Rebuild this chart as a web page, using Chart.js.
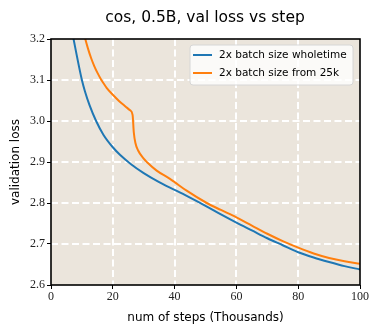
<!DOCTYPE html>
<html>
<head>
<meta charset="utf-8">
<script src="https://cdn.jsdelivr.net/npm/chart.js@4"></script>
<style>
  body { margin: 0; background: #fff; }
  #wrap { width: 378px; height: 332px; }
</style>
</head>
<body>
<div id="wrap"><canvas id="graphs" width="378" height="332"></canvas></div>
<script>
// chart text
const titleText = "cos, 0.5B, val loss vs step";
const xTitle = "num of steps (Thousands)";
const yTitle = "validation loss";
const seriesNames = ["2x batch size wholetime", "2x batch size from 25k"];

// x ticks / y ticks
const xTicks = [0, 20, 40, 60, 80, 100];
const yTicks = [2.6, 2.7, 2.8, 2.9, 3.0, 3.1, 3.2];

// blue series (step in thousands, loss)
const blueSteps = [6.5, 7.3, 8, 9, 10, 11, 12.5, 14.6, 17, 20, 22.4, 26, 30, 35, 40, 45, 50, 55, 60, 65, 70, 75, 80, 85, 90, 95, 100];
const blueLoss  = [3.232, 3.20, 3.173, 3.135, 3.10, 3.072, 3.038, 3.00, 2.966, 2.936, 2.917, 2.894, 2.873, 2.851, 2.832, 2.813, 2.793, 2.772, 2.752, 2.733, 2.714, 2.697, 2.680, 2.667, 2.656, 2.646, 2.638];

// orange series
const orangeSteps = [10.5, 11.1, 12, 13, 14, 15, 16.3, 17, 18, 20, 22, 24, 25.6, 26.4, 26.8, 27.3, 28.2, 30, 31, 34.2, 38.5, 40, 43.9, 50.4, 55, 60, 65, 70, 75, 80, 85, 90, 95, 100];
const orangeLoss  = [3.218, 3.20, 3.176, 3.153, 3.134, 3.118, 3.10, 3.092, 3.081, 3.064, 3.049, 3.036, 3.026, 3.015, 2.972, 2.947, 2.928, 2.908, 2.900, 2.879, 2.859, 2.851, 2.830, 2.800, 2.783, 2.765, 2.745, 2.725, 2.707, 2.691, 2.677, 2.666, 2.658, 2.652];

const blueCol = "#1f77b4", orangeCol = "#ff7f0e";

function toPts(xs, ys) {
    return xs.map((x, i) => ({ x: x, y: ys[i] }));
}

// background, dashed grid, frame, title and legend drawn by hand
const decorPlugin = {
    id: "decor",
    beforeDatasetsDraw(chart) {
        const a = chart.chartArea, ctx = chart.ctx;
        const xs = chart.scales.x, ys = chart.scales.y;
        ctx.save();
        ctx.fillStyle = "#ebe5dc";
        ctx.fillRect(a.left, a.top, a.right - a.left, a.bottom - a.top);
        ctx.strokeStyle = "#fff";
        ctx.lineWidth = 2;
        ctx.setLineDash([7, 3.5]);
        xTicks.slice(1, -1).forEach(v => {
            const px = Math.round(xs.getPixelForValue(v));
            ctx.beginPath();
            ctx.moveTo(px, a.top);
            ctx.lineTo(px, a.bottom);
            ctx.stroke();
        });
        yTicks.slice(1, -1).forEach(v => {
            const py = Math.round(ys.getPixelForValue(v));
            ctx.beginPath();
            ctx.moveTo(a.left, py);
            ctx.lineTo(a.right, py);
            ctx.stroke();
        });
        ctx.restore();
    },
    afterDraw(chart) {
        const a = chart.chartArea, ctx = chart.ctx;
        ctx.save();
        // frame
        ctx.strokeStyle = "#000";
        ctx.lineWidth = 1.6;
        ctx.strokeRect(a.left, a.top, a.right - a.left, a.bottom - a.top);

        // title
        ctx.fillStyle = "#000";
        ctx.font = "15.5px 'DejaVu Sans'";
        ctx.textAlign = "center";
        ctx.textBaseline = "alphabetic";
        ctx.fillText(titleText, 205, 22);

        // legend
        const bx = 190, by = 45, bw = 163, bh = 40;
        ctx.beginPath();
        ctx.roundRect(bx, by, bw, bh, 3);
        ctx.fillStyle = "rgba(255,255,255,0.8)";
        ctx.fill();
        ctx.strokeStyle = "#d6d6d6";
        ctx.lineWidth = 1;
        ctx.stroke();
        const cols = [blueCol, orangeCol];
        ctx.font = "10.5px 'DejaVu Sans'";
        ctx.textAlign = "left";
        ctx.textBaseline = "middle";
        seriesNames.forEach((name, i) => {
            const ly = by + 10 + i * 18;
            ctx.strokeStyle = cols[i];
            ctx.lineWidth = 2;
            ctx.beginPath();
            ctx.moveTo(bx + 3, ly);
            ctx.lineTo(bx + 22, ly);
            ctx.stroke();
            ctx.fillStyle = "#000";
            ctx.fillText(name, bx + 29, ly);
        });
        ctx.restore();
    }
};

const tickFont = { family: "'Liberation Serif', serif", size: 12 };

let data = {
    datasets: [{
            label: seriesNames[0],
            data: toPts(blueSteps, blueLoss),
            borderColor: blueCol,
            backgroundColor: blueCol,
            borderWidth: 2,
            pointRadius: 0,
            cubicInterpolationMode: "monotone"
        },
        {
            label: seriesNames[1],
            data: toPts(orangeSteps, orangeLoss),
            borderColor: orangeCol,
            backgroundColor: orangeCol,
            borderWidth: 2,
            pointRadius: 0,
            cubicInterpolationMode: "monotone"
        }
    ]
};

let config = {
    type: "line",
    data: data,
    options: {
        responsive: false,
        animation: false,
        layout: { padding: { top: 39, right: 18, left: 9, bottom: 7 } },
        plugins: {
            legend: { display: false },
            title: { display: false },
            tooltip: { enabled: false }
        },
        scales: {
            x: {
                type: "linear",
                min: 0,
                max: 100,
                afterBuildTicks: (s) => { s.ticks = xTicks.map(v => ({ value: v })); },
                afterFit: (s) => { s.height = 40; },
                ticks: { font: tickFont, color: "#222", padding: 1, maxRotation: 0 },
                grid: {
                    drawOnChartArea: false,
                    tickColor: "#000",
                    tickLength: 4,
                    tickWidth: 1
                },
                border: { display: false },
                title: {
                    display: true,
                    text: xTitle,
                    font: { family: "'DejaVu Sans'", size: 12 },
                    color: "#000",
                    padding: { top: 0, bottom: 0 }
                }
            },
            y: {
                min: 2.6,
                max: 3.2,
                afterBuildTicks: (s) => { s.ticks = yTicks.map(v => ({ value: v })); },
                afterFit: (s) => { s.width = 42; },
                ticks: { font: tickFont, color: "#222", padding: 2, callback: (v) => v.toFixed(1) },
                grid: {
                    drawOnChartArea: false,
                    tickColor: "#000",
                    tickLength: 4,
                    tickWidth: 1
                },
                border: { display: false },
                title: {
                    display: true,
                    text: yTitle,
                    font: { family: "'DejaVu Sans'", size: 12 },
                    color: "#000",
                    padding: { top: 0, bottom: 0 }
                }
            }
        }
    },
    plugins: [decorPlugin]
};

let chart = new Chart(document.getElementById("graphs").getContext("2d"), config);
</script>
</body>
</html>
